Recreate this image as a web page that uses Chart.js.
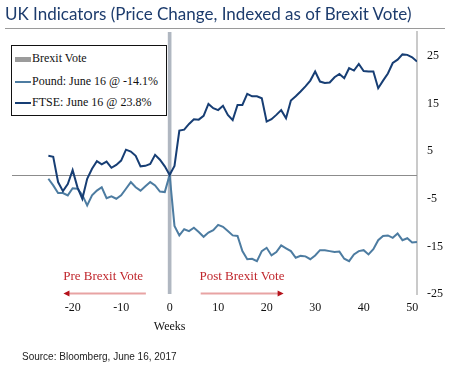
<!DOCTYPE html>
<html>
<head>
<meta charset="utf-8">
<script src="https://cdn.jsdelivr.net/npm/chart.js@4/dist/chart.umd.min.js"></script>
<style>
  body { margin: 0; background: #fff; }
  #wrap { position: relative; width: 450px; height: 368px; overflow: hidden; }
  #chart { position: absolute; left: 0; top: 0; }
  #title { position: absolute; left: 5px; top: 3px; font: 17px Lato, sans-serif; color: #1d3c6d; white-space: nowrap; }
  #rule { position: absolute; left: 5px; top: 28px; width: 440px; height: 1px; background: #9a9a9a; }
  #legend { position: absolute; left: 11px; top: 45px; width: 154px; height: 69px; border: 1px solid #111; background: #fff;
            font: 12px "Liberation Serif", serif; color: #111; }
  #legend .row { position: absolute; left: 3px; height: 14px; line-height: 14px; white-space: nowrap; }
  #legend .sw { display: inline-block; width: 16px; vertical-align: middle; margin-right: 1px; }
  #source { position: absolute; left: 22px; top: 351px; font: 10px "Liberation Sans", sans-serif; color: #222; white-space: nowrap; }
</style>
</head>
<body>
<div id="wrap">
  <canvas id="chart" width="450" height="368"></canvas>
  <div id="title">UK Indicators (Price Change, Indexed as of Brexit Vote)</div>
  <div id="rule"></div>
  <div id="legend"></div>
  <div id="source">Source: Bloomberg, June 16, 2017</div>
</div>
<script>
// weeks relative to the Brexit vote (week 0)
let weeks = [-25,-24,-23,-22,-21,-20,-19,-18,-17,-16,-15,-14,-13,-12,-11,-10,-9,-8,-7,-6,-5,-4,-3,-2,-1,
  0,1,2,3,4,5,6,7,8,9,10,11,12,13,14,15,16,17,18,19,20,21,22,23,24,25,26,27,28,29,30,
  31,32,33,34,35,36,37,38,39,40,41,42,43,44,45,46,47,48,49,50,51];

let pound = [-0.8,-2.2,-3.8,-3.8,-4.3,-2.8,-2.9,-4.2,-6.4,-4.3,-3.3,-2.6,-4.9,-4.5,-5.0,-4.3,-2.9,-1.5,-2.6,-3.3,-2.4,-1.5,-2.2,-3.5,-3.6,
  0,-10.7,-12.7,-11.4,-11.8,-11.1,-12.0,-13.0,-12.1,-11.6,-10.5,-10.9,-11.8,-12.7,-12.8,-16.0,-17.7,-17.6,-18.1,-16.0,-15.3,
  -16.9,-16.2,-14.8,-15.4,-16.0,-17.4,-17.0,-17.1,-17.7,-16.9,-15.8,-15.8,-16.0,-16.2,-16.1,-17.6,-18.1,-16.7,-16.0,-15.8,
  -16.7,-15.6,-13.7,-12.8,-12.7,-13.2,-12.3,-13.7,-13.3,-14.2,-14.1];

let ftse = [4.0,3.8,-1.5,-3.4,-1.9,1.0,-2.6,-5.0,-0.8,1.3,2.9,2.2,2.8,1.5,2.1,3.0,5.3,4.9,4.0,1.8,1.9,2.3,4.2,3.2,1.8,
  0,1.9,9.3,9.5,10.7,11.7,11.6,12.4,14.9,14.0,13.6,14.5,12.6,11.5,14.7,14.7,17.0,16.5,16.5,16.1,11.2,
  11.7,12.6,13.6,11.9,15.6,16.5,17.5,18.6,19.8,21.7,19.6,19.3,19.4,20.5,21.2,20.3,22.4,21.9,23.3,21.8,
  21.7,21.7,18.2,19.8,21.3,23.5,24.2,25.3,25.2,24.7,23.8];

let voteWeek = 0;
let voteRange = [-25, 30];

let seriesLabels = ['Brexit Vote', 'Pound: June 16 @ -14.1%', 'FTSE: June 16 @ 23.8%'];
let xTicks = [-20, -10, 0, 10, 20, 30, 40, 50];
let yTicks = [-25, -15, -5, 5, 15, 25];

// text + arrow notes, in data units
let notes = [
  { text: 'Pre Brexit Vote',  x: -13.7, y: -21.4, from: -4.9, to: -21.9 },
  { text: 'Post Brexit Vote', x: 14.9,  y: -21.4, from: 6.4,  to: 23.5 }
];
let arrowY = -24.8;

let toXY = (vals) => weeks.map((w, i) => ({ x: w, y: vals[i] }));

let extras = {
  id: 'extras',
  beforeDatasetsDraw(chart) {
    let { ctx, chartArea, scales } = chart;
    let y0 = scales.y.getPixelForValue(0);
    ctx.save();
    ctx.strokeStyle = '#8c8c8c';
    ctx.lineWidth = 1;
    ctx.beginPath();
    ctx.moveTo(chartArea.left, Math.round(y0) + 0.5);
    ctx.lineTo(chartArea.right, Math.round(y0) + 0.5);
    ctx.stroke();
    ctx.restore();
  },
  afterDatasetsDraw(chart) {
    let { ctx, scales } = chart;
    ctx.save();
    ctx.font = '13px "Liberation Serif", serif';
    ctx.textAlign = 'center';
    ctx.textBaseline = 'middle';
    notes.forEach(n => {
      ctx.fillStyle = '#c0272d';
      ctx.fillText(n.text, scales.x.getPixelForValue(n.x), scales.y.getPixelForValue(n.y));
      let ay = Math.round(scales.y.getPixelForValue(arrowY)) + 0.5;
      let x1 = scales.x.getPixelForValue(n.from), x2 = scales.x.getPixelForValue(n.to);
      let dir = x2 > x1 ? 1 : -1;
      ctx.strokeStyle = '#e8a3a3';
      ctx.lineWidth = 2;
      ctx.beginPath();
      ctx.moveTo(x1, ay);
      ctx.lineTo(x2 - dir * 4, ay);
      ctx.stroke();
      ctx.fillStyle = '#b5121b';
      ctx.beginPath();
      ctx.moveTo(x2, ay);
      ctx.lineTo(x2 - dir * 6, ay - 3);
      ctx.lineTo(x2 - dir * 6, ay + 3);
      ctx.closePath();
      ctx.fill();
    });
    // axis title sits under week 0
    ctx.fillStyle = '#111';
    ctx.font = '12px "Liberation Serif", serif';
    ctx.fillText('Weeks', scales.x.getPixelForValue(0), 327);
    ctx.restore();
  }
};

let ctx = document.getElementById('chart').getContext('2d');
let chart = new Chart(ctx, {
  type: 'line',
  data: {
    datasets: [
      {
        type: 'bar',
        label: seriesLabels[0],
        data: [{ x: voteWeek, y: voteRange }],
        backgroundColor: '#b0b7c1',
        barThickness: 3,
        order: 3
      },
      {
        label: seriesLabels[1],
        data: toXY(pound),
        borderColor: '#4d7ca1',
        borderWidth: 2,
        pointRadius: 0,
        tension: 0,
        order: 2
      },
      {
        label: seriesLabels[2],
        data: toXY(ftse),
        borderColor: '#173e74',
        borderWidth: 2,
        pointRadius: 0,
        tension: 0,
        order: 1
      }
    ]
  },
  options: {
    responsive: false,
    animation: false,
    layout: { padding: { top: 32, left: 12, right: 0, bottom: 0 } },
    plugins: {
      legend: { display: false },
      tooltip: { enabled: false }
    },
    scales: {
      x: {
        type: 'linear',
        min: -32.5,
        max: 51,
        offset: false,
        grid: { display: false, drawTicks: false },
        border: { display: false },
        afterBuildTicks: (s) => { s.ticks = xTicks.map(v => ({ value: v })); },
        afterFit: (s) => { s.height = 74; },
        ticks: {
          padding: 7,
          color: '#111',
          font: { family: '"Liberation Serif", serif', size: 12 },
          maxRotation: 0
        }
      },
      y: {
        position: 'right',
        min: -25,
        max: 30,
        grid: { display: false, drawTicks: false },
        border: { display: true, color: '#cacaca', width: 2 },
        afterBuildTicks: (s) => { s.ticks = yTicks.map(v => ({ value: v })); },
        afterFit: (s) => { s.width = 33; },
        ticks: {
          padding: 10,
          color: '#111',
          font: { family: '"Liberation Serif", serif', size: 12 }
        }
      }
    }
  },
  plugins: [extras]
});

// html legend built from the datasets
let legend = document.getElementById('legend');
let rowTops = [5, 28, 49];
chart.data.datasets.forEach((ds, i) => {
  let row = document.createElement('div');
  row.className = 'row';
  row.style.top = rowTops[i] + 'px';
  let sw = document.createElement('span');
  sw.className = 'sw';
  if (ds.type === 'bar') {
    sw.style.height = '5px';
    sw.style.background = '#9b9b9b';
  } else {
    sw.style.height = '2px';
    sw.style.background = ds.borderColor;
  }
  row.appendChild(sw);
  row.appendChild(document.createTextNode(ds.label));
  legend.appendChild(row);
});
</script>
</body>
</html>
